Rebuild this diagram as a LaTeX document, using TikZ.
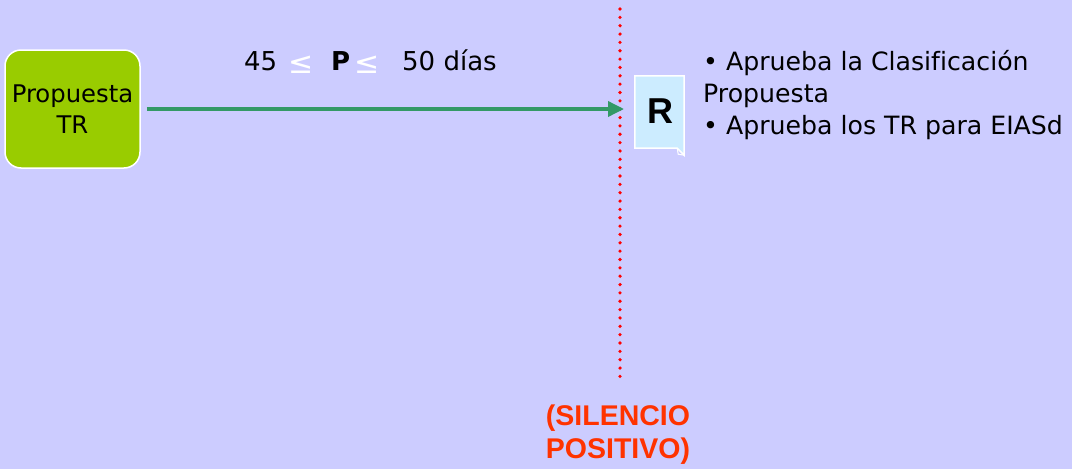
\documentclass[tikz,border=0pt]{standalone}
\usepackage{fontspec}
\setmainfont{DejaVu Sans}[Ligatures=NoCommon]
\newfontfamily\arialfont{Liberation Sans}
\usetikzlibrary{arrows.meta}
\definecolor{bg}{HTML}{CCCCFF}
\definecolor{boxgreen}{HTML}{99CC00}
\definecolor{arrowgreen}{HTML}{339966}
\definecolor{docblue}{HTML}{CCECFF}
\definecolor{silred}{HTML}{FF3300}
\begin{document}
\begin{tikzpicture}[x=1pt,y=-1pt,
  txt/.style={font=\fontsize{25.2}{32}\selectfont, inner sep=0pt},
  headtxt/.style={font=\fontsize{26}{32}\selectfont, inner sep=0pt},
  leq/.style={font=\fontsize{30}{32}\selectfont, inner sep=0pt, text=white},
  propbox/.style={draw=white, line width=1.5pt, fill=boxgreen, rounded corners=16pt,
     minimum width=135pt, minimum height=118pt, align=center,
     font=\fontsize{24.3}{32}\selectfont, inner sep=0pt},
  flow/.style={draw=arrowgreen, line width=3.5pt, -{Triangle[length=16pt,width=15pt]}},
  silence/.style={draw=red, line width=3.6pt, line cap=round, dash pattern=on 0pt off 8.35pt},
  doc/.style={draw=white, line width=1.5pt, fill=docblue},
  silabel/.style={text=silred, font=\arialfont\bfseries\fontsize{28.5}{33}\selectfont, align=center, inner sep=0pt}
]
\fill[bg] (0,0) rectangle (1072,469);
\useasboundingbox (0,0) rectangle (1072,469);

% dotted boundary
\coordinate (ltop) at (620,9);
\coordinate (lbot) at (620,378);
\draw[silence] (ltop) -- (lbot);

% proposal box
\node[propbox] (prop) at (72.5,109) {Propuesta\\[-1pt]TR};

% document R
\node[minimum width=49pt, minimum height=72pt, inner sep=0pt] (R) at (659.5,112) {};
\draw[doc] (R.north west) -- (R.north east) -- ([yshift=-7pt]R.south east) -- ([xshift=-7pt]R.south east) -- (R.south west) -- cycle;
\draw[white, line width=1pt] ([yshift=-7pt]R.south east) -- ([xshift=-6pt,yshift=-6pt]R.south east) -- ([xshift=-7pt]R.south east);
\node[font=\arialfont\bfseries\fontsize{36}{40}\selectfont, inner sep=0pt] (Rlbl) at (660,111) {R};

% arrow
\coordinate (tip) at (624,109);
\draw[flow] (prop.east) ++(6pt,0) -- (tip);

% heading
\node[headtxt, anchor=base west] (h1) at (244,70) {45};
\node[leq, anchor=base west] (h2) at (288,73) {≤};
\node[headtxt, anchor=base west, font=\bfseries\fontsize{26}{32}\selectfont] (h3) at (331,70) {P};
\node[leq, anchor=base west] (h4) at (354,73) {≤};
\node[headtxt, anchor=base west] (h5) at (402,70) {50 días};

% right text
\node[txt, anchor=base west] (b1) at (703,70) {• Aprueba la Clasificación};
\node[txt, anchor=base west] (b2) at (703,102) {Propuesta};
\node[txt, anchor=base west] (b3) at (703,134) {• Aprueba los TR para EIASd};

% silence label
\node[silabel, anchor=base] (sil1) at (618,425) {(SILENCIO};
\node[silabel, anchor=base] (sil2) at (618,458) {POSITIVO)};
\end{tikzpicture}
\end{document}
